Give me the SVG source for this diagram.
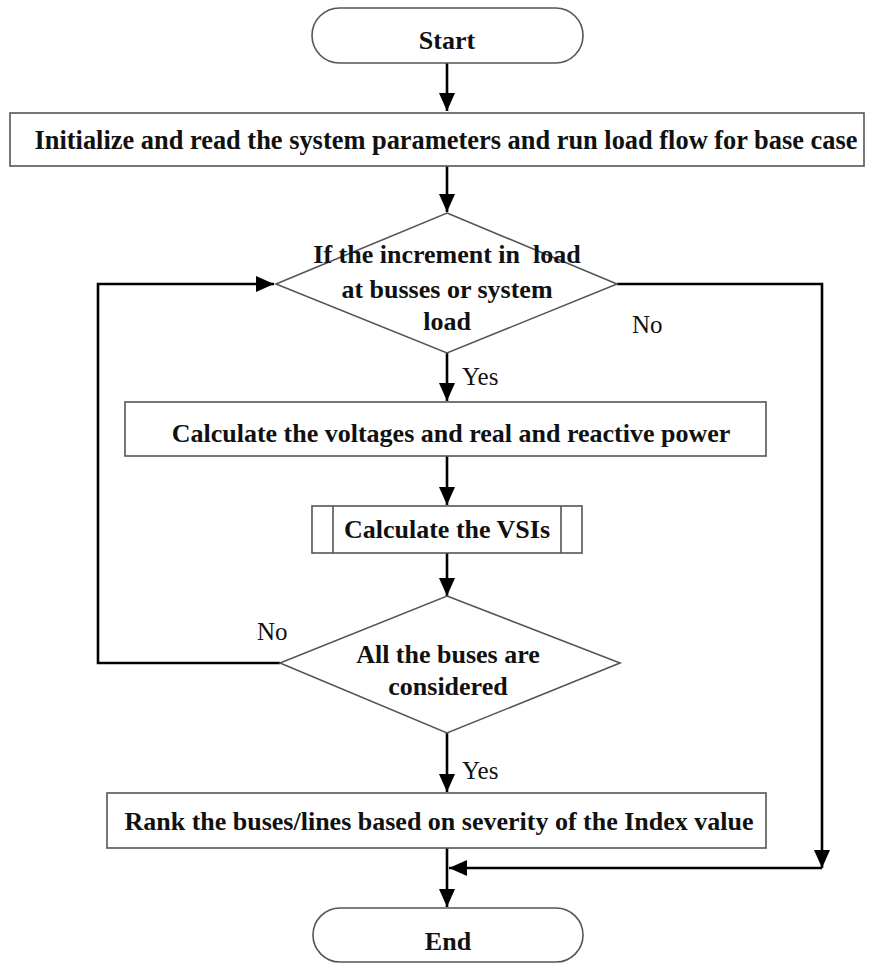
<svg xmlns="http://www.w3.org/2000/svg" width="872" height="965" viewBox="0 0 872 965">
<style>
.n{fill:#fff;stroke:#555;stroke-width:1.6}
.c{fill:none;stroke:#000;stroke-width:2.6}
.t{font-family:"Liberation Serif","Times New Roman",serif;font-size:26px;font-weight:bold;fill:#111;text-anchor:middle}
.l{font-family:"Liberation Serif","Times New Roman",serif;font-size:25px;fill:#111}
</style>
<defs>
<marker id="b" viewBox="0 0 18 18" refX="18" refY="9" markerWidth="18" markerHeight="18" markerUnits="userSpaceOnUse" orient="auto">
<path d="M0,1 L18,9 L0,17 Z" fill="#000"/>
</marker>
</defs>
<rect width="872" height="965" fill="#fff"/>
<g id="connectors">
<path class="c" d="M447,63 V111" marker-end="url(#b)"/>
<path class="c" d="M447,166 V212" marker-end="url(#b)"/>
<path class="c" d="M447,353 V401" marker-end="url(#b)"/>
<path class="c" d="M447,456 V505" marker-end="url(#b)"/>
<path class="c" d="M447,553 V596" marker-end="url(#b)"/>
<path class="c" d="M447,733 V792" marker-end="url(#b)"/>
<path class="c" d="M447,848 V907" marker-end="url(#b)"/>
<path class="c" d="M280,663 H98 V284 H274" marker-end="url(#b)"/>
<path class="c" d="M617,284 H822 V868" marker-end="url(#b)"/>
<path class="c" d="M822,868 H449" marker-end="url(#b)"/>
</g>
<g id="start">
<rect class="n" x="312" y="8" width="271" height="55" rx="27.5"/>
<text class="t" x="447" y="49">Start</text>
</g>
<g id="init">
<rect class="n" x="10" y="113" width="854" height="53"/>
<text class="t" x="446" y="149" style="font-size:26.4px">Initialize and read the system parameters and run load flow for base case</text>
</g>
<g id="decision1">
<polygon class="n" points="447,213 617,284 447,353 276,284"/>
<text class="t" x="447" y="263" style="white-space:pre">If the increment in  load</text>
<text class="t" x="447" y="298">at busses or system</text>
<text class="t" x="447" y="330">load</text>
</g>
<g id="calc">
<rect class="n" x="125" y="402" width="641" height="54"/>
<text class="t" x="451" y="442">Calculate the voltages and real and reactive power</text>
</g>
<g id="vsi">
<rect class="n" x="312" y="506" width="270" height="47"/>
<line class="n" x1="333" y1="506" x2="333" y2="553"/>
<line class="n" x1="561" y1="506" x2="561" y2="553"/>
<text class="t" x="447" y="538">Calculate the VSIs</text>
</g>
<g id="decision2">
<polygon class="n" points="447,596 620,663 447,733 280,663"/>
<text class="t" x="448" y="663">All the buses are</text>
<text class="t" x="448" y="695">considered</text>
</g>
<g id="rank">
<rect class="n" x="107" y="793" width="659" height="55"/>
<text class="t" x="439" y="830">Rank the buses/lines based on severity of the Index value</text>
</g>
<g id="end">
<rect class="n" x="313" y="908" width="270" height="54" rx="27"/>
<text class="t" x="448" y="950">End</text>
</g>
<g id="labels">
<text class="l" x="632" y="333">No</text>
<text class="l" x="462" y="385">Yes</text>
<text class="l" x="257" y="640">No</text>
<text class="l" x="462" y="779">Yes</text>
</g>
</svg>
